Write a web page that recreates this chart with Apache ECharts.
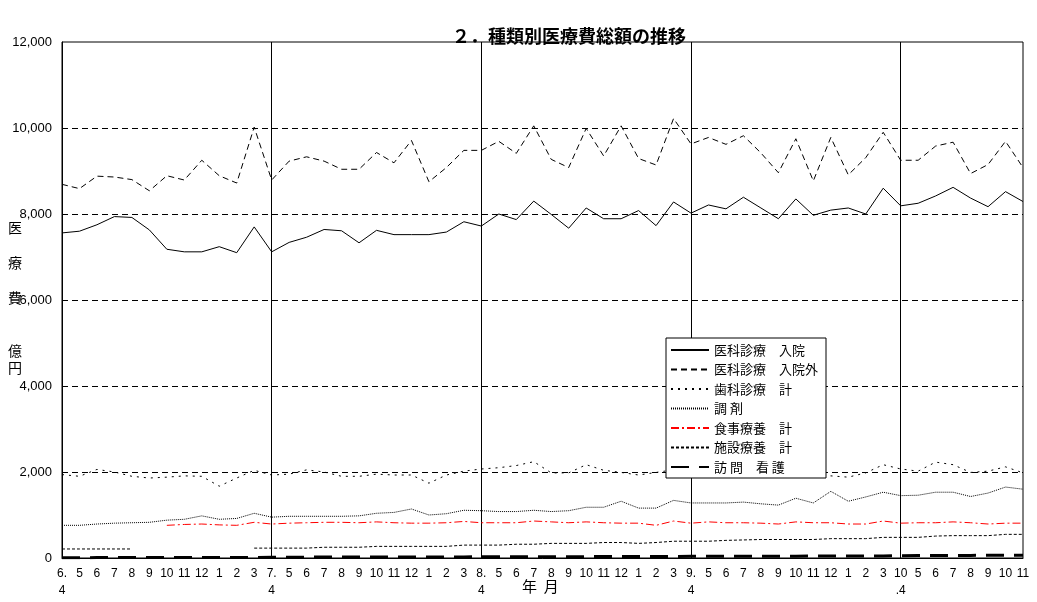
<!DOCTYPE html>
<html><head><meta charset="utf-8">
<script src="https://cdn.jsdelivr.net/npm/echarts@6/dist/echarts.min.js"></script>
<style>html,body{margin:0;padding:0;background:#fff}#c{width:1037px;height:602px}</style>
</head><body><div id="c"></div>
<script>
// Month labels (Heisei year. month), 6.4 – 11 (H10.11)
const months = [
  "6.\n4","5","6","7","8","9","10","11","12","1","2","3",
  "7.\n4","5","6","7","8","9","10","11","12","1","2","3",
  "8.\n4","5","6","7","8","9","10","11","12","1","2","3",
  "9.\n4","5","6","7","8","9","10","11","12","1","2","3",
  "10\n.4","5","6","7","8","9","10","11"
];
const yTicks = [0, 2000, 4000, 6000, 8000, 10000, 12000];

// 億円
const inpatient = [7560,7600,7750,7940,7920,7630,7180,7120,7120,7240,7100,7700,
  7120,7340,7460,7640,7610,7330,7620,7520,7520,7520,7580,7820,
  7720,8000,7870,8300,7990,7670,8140,7890,7890,8080,7730,8280,
  8020,8210,8120,8390,8140,7890,8350,7970,8090,8140,8000,8600,
  8190,8250,8420,8620,8370,8170,8520,8290];
const outpatient = [8690,8590,8880,8860,8800,8540,8890,8790,9250,8890,8720,10020,
  8790,9230,9330,9230,9040,9040,9430,9190,9710,8750,9080,9480,
  9480,9690,9410,10050,9270,9080,9990,9350,10050,9290,9140,10220,
  9630,9780,9620,9820,9420,8960,9750,8770,9780,8910,9310,9900,
  9250,9250,9580,9670,8940,9150,9690,9080];
const dental = [1940,1900,2060,2000,1900,1860,1880,1910,1900,1670,1860,2040,
  1930,1950,2050,2000,1900,1900,1950,1930,1930,1740,1930,2020,
  2070,2100,2150,2240,1980,1980,2170,2040,1990,1930,1990,2050,
  2000,2000,1980,1960,1980,1990,2010,1910,1910,1880,1980,2170,
  2070,2020,2230,2170,1990,2020,2120,1980];
const dispensing = [760,760,790,810,820,830,880,900,980,900,920,1040,
  950,970,970,970,970,980,1040,1060,1140,1000,1030,1110,
  1100,1080,1080,1110,1080,1100,1180,1180,1320,1160,1160,1340,
  1280,1280,1280,1300,1260,1230,1390,1280,1550,1320,1420,1530,
  1450,1460,1530,1530,1430,1510,1650,1600];
const meal = [null,null,null,null,null,null,760,780,790,770,760,830,
  790,810,820,830,830,820,840,820,810,810,820,850,
  820,820,820,860,840,820,840,820,810,810,760,860,
  810,840,820,820,810,790,840,820,820,790,790,860,
  810,820,820,840,820,790,810,810];
const facility = [210,210,210,210,210,null,null,null,null,null,null,230,
  230,230,230,250,250,250,270,270,270,270,270,300,
  300,300,320,320,340,340,340,360,360,340,360,390,
  390,390,410,420,430,430,430,430,450,450,450,480,
  480,480,510,520,520,520,550,550];
const nursing = [8,8,9,9,9,10,10,10,11,11,12,12,
  19,20,20,21,22,22,23,23,24,25,25,26,
  28,29,29,30,31,31,32,33,33,34,35,36,
  38,39,40,40,41,42,43,44,45,46,46,47,
  55,57,58,60,61,63,64,66];

const names = ["医科診療　入院","医科診療　入院外","歯科診療　計","調 剤","食事療養　計","施設療養　計","訪 問　看 護"];
const seriesData = [inpatient, outpatient, dental, dispensing, meal, facility, nursing];
const styles = [
  {color:'#000', width:1, type:'solid'},
  {color:'#000', width:1, type:[6,4]},
  {color:'#000', width:1, type:[2,5]},
  {color:'#000', width:1, type:[1,1]},
  {color:'#ff0000', width:1, type:[8,3,2,3]},
  {color:'#000', width:1, type:[3,2]},
  {color:'#000', width:3, type:[18,10]}
];

const FONT = '"Liberation Sans","Noto Sans CJK JP",sans-serif';
const JFONT = '"Noto Sans CJK JP",sans-serif';

const chart = echarts.init(document.getElementById('c'), null, {renderer:'canvas'});
chart.setOption({
  animation: false,
  backgroundColor: '#fff',
  title: {
    text: '２．種類別医療費総額の推移',
    left: 447, top: 22,
    textStyle: {fontSize: 18, fontWeight: 'bold', color: '#000', fontFamily: JFONT}
  },
  grid: {left: 62, right: 14, top: 42, bottom: 44, show: true, borderColor: '#000', borderWidth: 1, backgroundColor: 'transparent'},
  xAxis: {
    type: 'category', boundaryGap: false, data: months,
    axisLine: {show: true, lineStyle: {color: '#000', width: 1}},
    axisTick: {show: false},
    axisLabel: {interval: 0, color: '#000', fontSize: 12, fontFamily: FONT, margin: 7, lineHeight: 17},
    splitLine: {show: true, interval: function (i) { return i > 0 && i % 12 === 0; }, lineStyle: {color: '#000', width: 1, type: 'solid'}}
  },
  yAxis: {
    type: 'value', min: yTicks[0], max: yTicks[yTicks.length - 1], interval: 2000,
    axisLine: {show: true, lineStyle: {color: '#000', width: 1}},
    axisTick: {show: false},
    axisLabel: {color: '#000', fontSize: 13, fontFamily: FONT, margin: 10,
      formatter: function (v) { return v.toLocaleString('en-US'); }},
    splitLine: {show: true, showMinLine: false, showMaxLine: false, lineStyle: {color: '#000', width: 1, type: [6,4]}}
  },
  legend: {
    orient: 'vertical', left: 666, top: 338,
    padding: [5, 8, 4, 4], itemGap: 5.5, itemWidth: 38, itemHeight: 14,
    backgroundColor: '#fff', borderColor: '#000', borderWidth: 1, borderRadius: 0,
    selectedMode: false,
    itemStyle: {opacity: 0},
    textStyle: {color: '#000', fontSize: 13, fontFamily: JFONT, lineHeight: 14},
    data: names
  },
  graphic: [
    {type: 'text', left: 8, top: 219, z: 10,
      style: {text: '医\n\n療\n\n費\n\n\n億\n円', font: '14px ' + JFONT, fill: '#000', lineHeight: 17.5}},
    {type: 'text', left: 522, top: 579, z: 10,
      style: {text: '年  月', font: '15px ' + JFONT, fill: '#000'}}
  ],
  series: names.map(function (n, k) {
    return {
      name: n, type: 'line', data: seriesData[k], symbol: 'none', showSymbol: false, smooth: false,
      connectNulls: false, lineStyle: styles[k], itemStyle: {color: styles[k].color},
      z: 3
    };
  })
});
</script>
</body></html>
